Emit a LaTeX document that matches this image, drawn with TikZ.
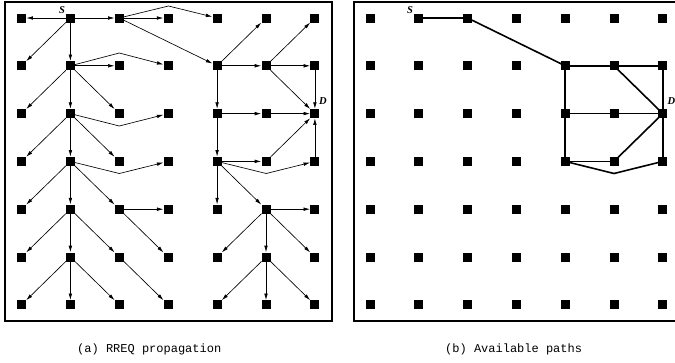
\documentclass[tikz,border=0pt]{standalone}
\usepackage{fontspec}
\setmainfont{Liberation Serif}
\setmonofont{Liberation Mono}
\usetikzlibrary{arrows.meta}
\begin{document}
\begin{tikzpicture}[x=1pt,y=-1pt,
  nd/.style={rectangle,fill=black,minimum size=9pt,inner sep=0pt,outer sep=0pt},
  arr/.style={-{Latex[length=6.5pt,width=3.6pt]},line width=0.65pt,shorten >=0.3pt},
  avail/.style={line width=1.6pt},
  panel/.style={line width=1.1pt},
  lbl/.style={font=\fontsize{10.5}{12}\selectfont\bfseries\itshape,inner sep=0pt},
  captxt/.style={font=\fontsize{12}{14}\selectfont\ttfamily,anchor=west,inner sep=0pt}]
\useasboundingbox (0,0) rectangle (675,362);
% frames
\draw[panel] (5,2) rectangle (332,321);
\draw[panel] (354,2) rectangle (690,321);
% nodes
\foreach \c in {0,...,6} {
  \foreach \r in {0,...,6} {
    \node[nd] (a\c\r) at ({21.5+48.9*\c},{18+47.8*\r}) {};
    \node[nd] (b\c\r) at ({370+48.8*\c},{18+47.8*\r}) {};
  }
}
% bend points
\coordinate (k1) at (168.5,6);
\coordinate (k2) at (119.3,53);
\coordinate (k3) at (119.3,126);
\coordinate (k4) at (266.2,173.5);
\coordinate (k5) at (119.3,173.5);
\coordinate (k6) at (614,173.5);
% labels
\node[lbl] (s1) at (62,10) {S};
\node[lbl] (d1) at (323,101) {D};
\node[lbl] (s2) at (410,10) {S};
\node[lbl] (d2) at (671.5,101) {D};
% captions
\node[captxt] (ca) at (77,349) {(a) RREQ propagation};
\node[captxt] (cb) at (445,349) {(b) Available paths};
% left: RREQ propagation
\foreach \u/\v in {a10/a00,a10/a20,a20/a30,a20/a41,a10/a01,a10/a11,
  a11/a21,a11/a02,a11/a12,a11/a22,
  a41/a50,a41/a51,a41/a42,a51/a60,a51/a61,a51/a62,a61/a62,a42/a52,a52/a62,
  a12/a03,a12/a13,a12/a23,
  a42/a43,a43/a53,a53/a62,a63/a62,a43/a44,a43/a54,
  a13/a04,a13/a14,a13/a24,
  a24/a34,a24/a35,a14/a05,a14/a15,a14/a25,a54/a64,a54/a45,a54/a55,a54/a65,
  a15/a06,a15/a16,a15/a26,a25/a36,a55/a46,a55/a56,a55/a66}
  \draw[arr] (\u) -- (\v);
\draw[arr] (a20) -- (k1) -- (a40);
\draw[arr] (a11) -- (k2) -- (a31);
\draw[arr] (a12) -- (k3) -- (a32);
\draw[arr] (a43) -- (k4) -- (a63);
\draw[arr] (a13) -- (k5) -- (a33);
% right: available paths
\foreach \u/\v in {b10/b20,b20/b41,b41/b51,b51/b61,b51/b62,b61/b62,b41/b42,
  b42/b52,b52/b62,b42/b43,b43/b53,b53/b62,b63/b62}
  \draw[avail] (\u.center) -- (\v.center);
\draw[avail] (b43.center) -- (k6) -- (b63.center);
\end{tikzpicture}
\end{document}
